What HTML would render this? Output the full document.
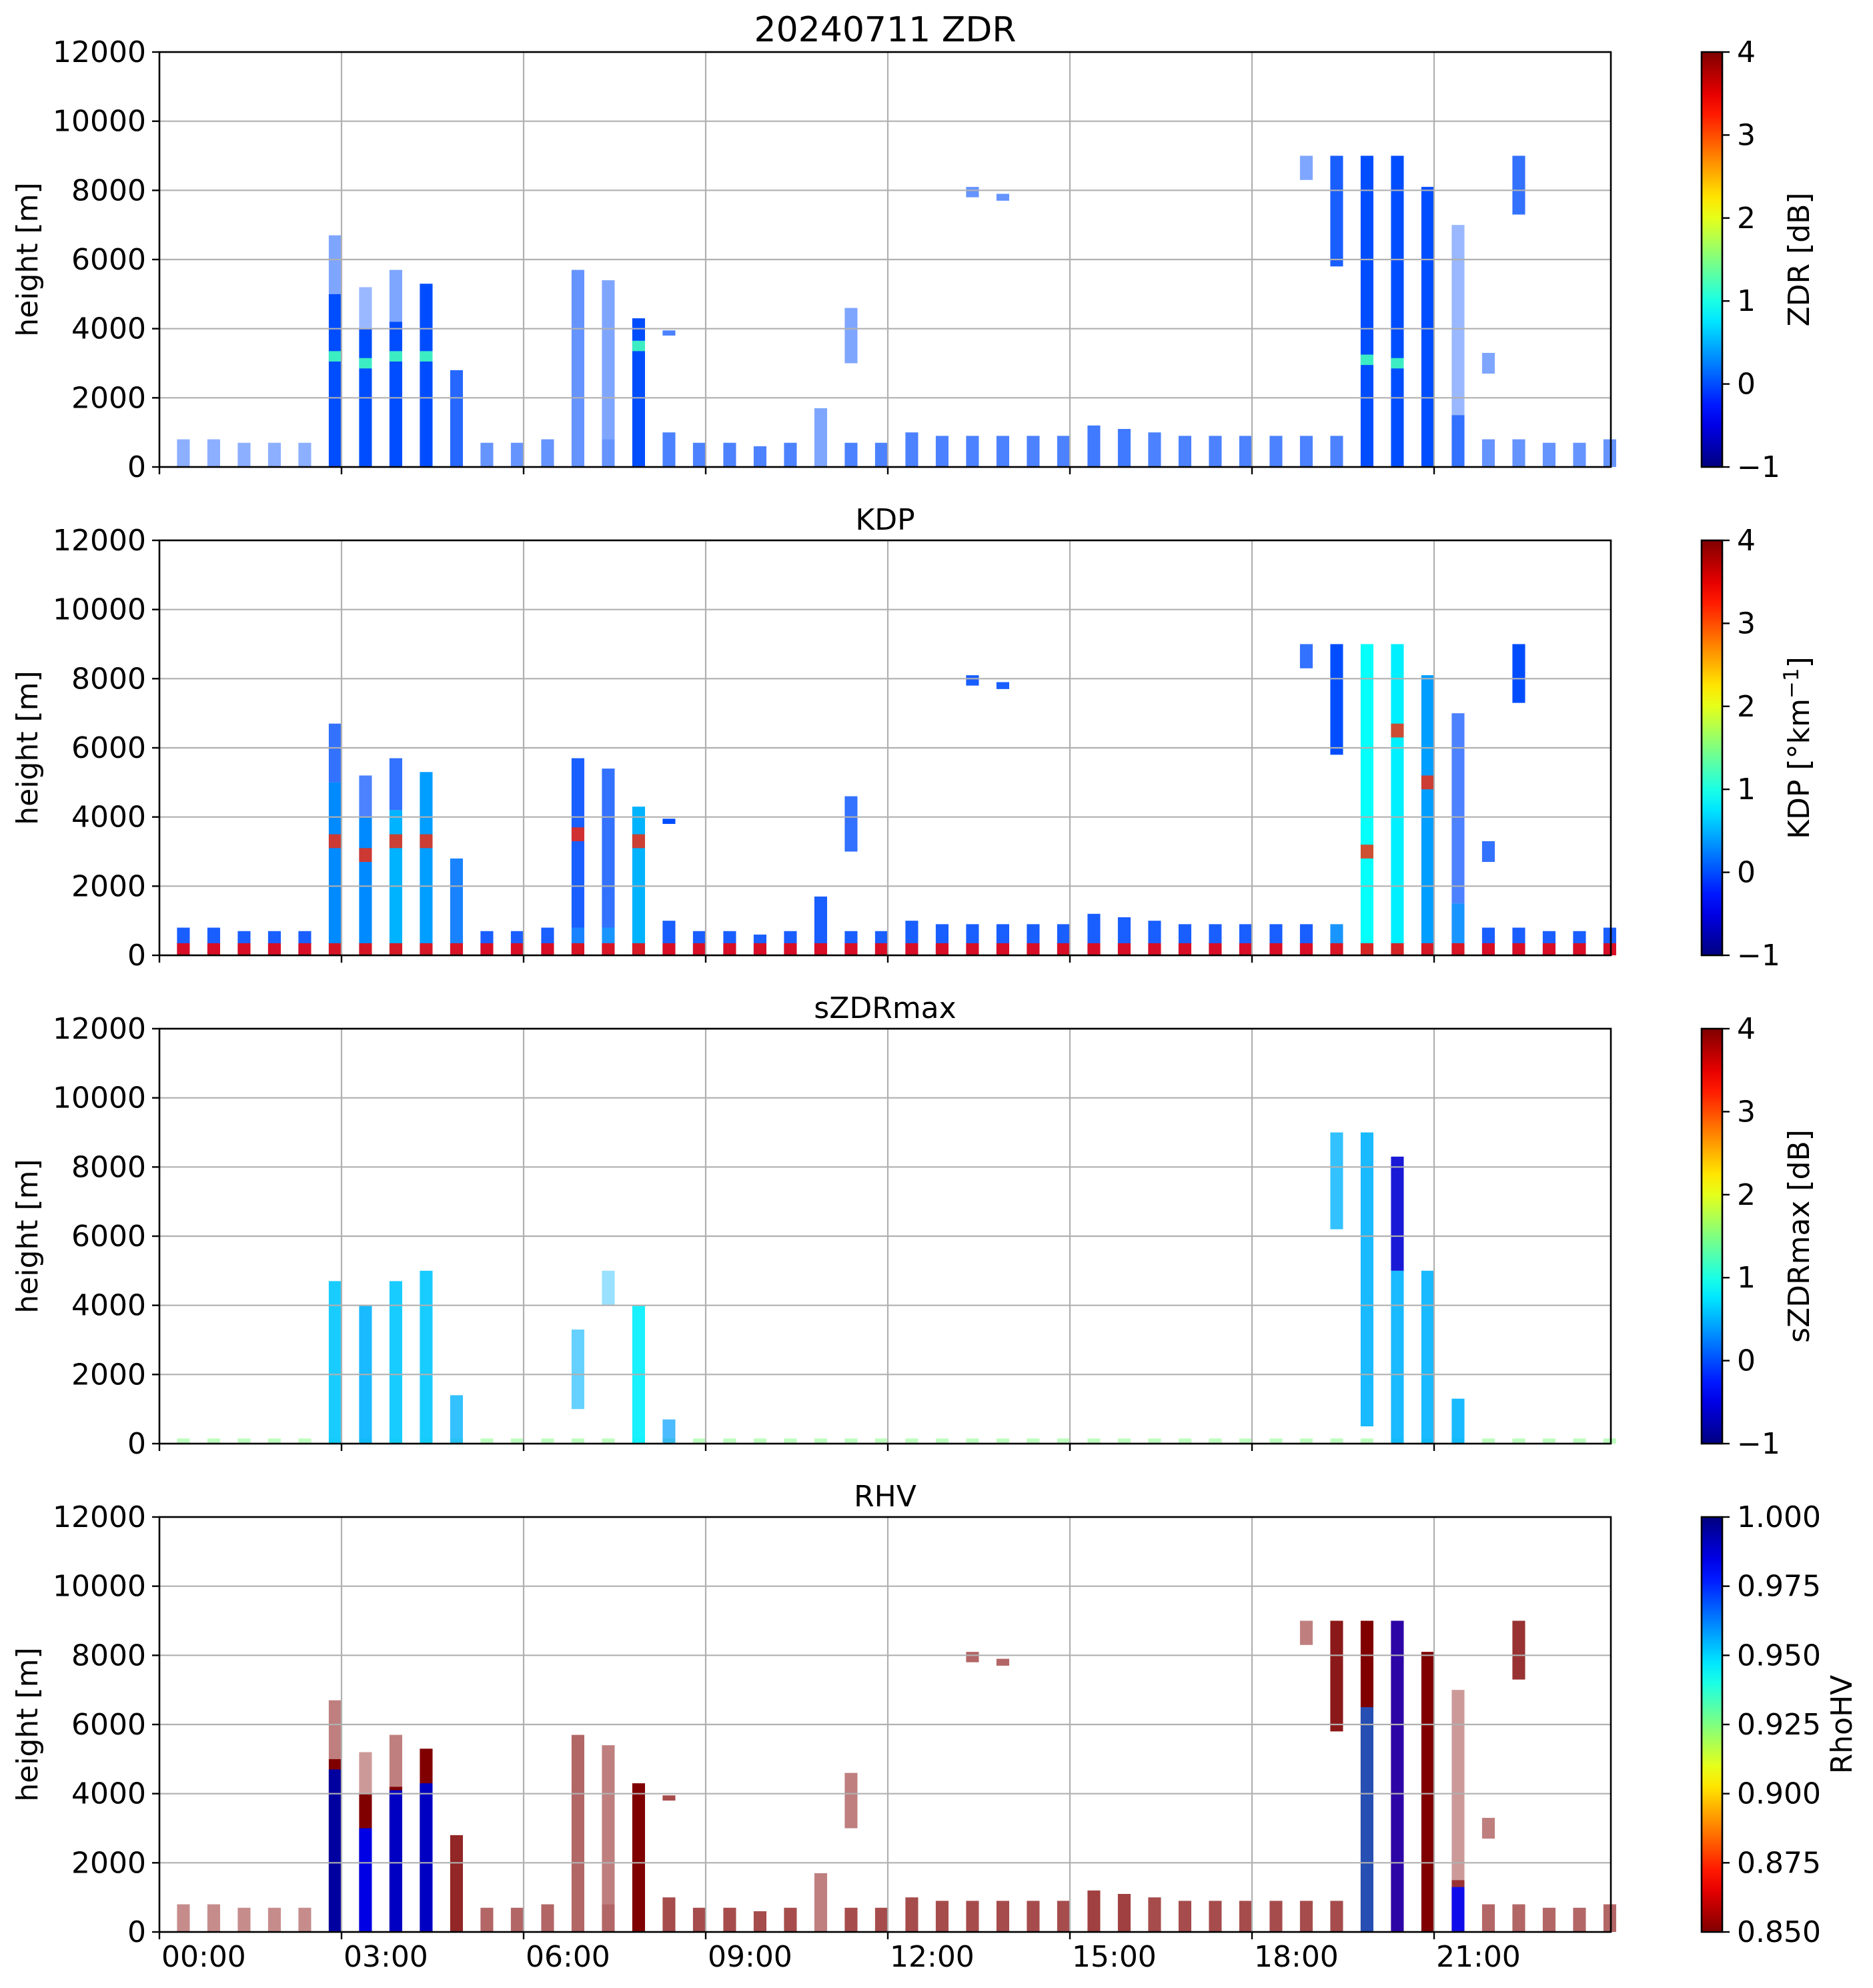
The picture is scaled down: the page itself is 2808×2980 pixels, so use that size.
<!DOCTYPE html>
<html><head><meta charset="utf-8"><style>
html,body{margin:0;padding:0;background:#fff;}
svg{display:block;font-family:"DejaVu Sans","Liberation Sans",sans-serif;}
</style></head><body>
<svg id="fig" width="2808" height="2980" viewBox="0 0 2808 2980" xmlns="http://www.w3.org/2000/svg"></svg>
<script>
// ---- data ----
const scanStart = [0.29,0.79,1.29,1.79,2.29,2.79,3.29,3.79,4.29,4.79,5.29,5.79,6.29,6.79,7.29,7.79,8.29,8.79,9.29,9.79,10.29,10.79,11.29,11.79,12.29,12.79,13.29,13.79,14.29,14.79,15.29,15.79,16.29,16.79,17.29,17.79,18.29,18.79,19.29,19.79,20.29,20.79,21.29,21.79,22.29,22.79,23.29,23.79];
const scanDur = 0.21;
const heightTicks = [0,2000,4000,6000,8000,10000,12000];
const timeTicks = [0,3,6,9,12,15,18,21];
const timeLabels = ["00:00","03:00","06:00","09:00","12:00","15:00","18:00","21:00"];
const colTops = [800,800,700,700,700,5000,4000,4200,5300,2800,700,700,800,800,800,4300,1000,700,700,600,700,1700,700,700,1000,900,900,900,900,900,1200,1100,1000,900,900,900,900,900,900,9000,9000,8100,1500,800,800,700,700,800];
const colDens = [0.45,0.45,0.45,0.45,0.45,1,1,1,1,0.85,0.6,0.6,0.6,0.6,0.6,1,0.7,0.7,0.7,0.7,0.7,0.5,0.7,0.7,0.7,0.7,0.7,0.7,0.7,0.7,0.75,0.75,0.7,0.7,0.7,0.7,0.7,0.7,0.7,1,1,1,0.8,0.6,0.6,0.6,0.6,0.6];
// extra segments (scan index, bottom m, top m, density)
const extK   = [5,6,7,13,14,16,22,26,27,37,38,42,43,44];
const extBot = [5000,4000,4200,800,800,3800,3000,7800,7700,8300,5800,1500,2700,7300];
const extTop = [6700,5200,5700,5700,5400,3950,4600,8100,7900,9000,9000,7000,3300,9000];
const extDen = [0.5,0.4,0.5,0.6,0.5,0.7,0.5,0.6,0.6,0.5,0.9,0.4,0.5,0.8];
// ZDR values
const zdrBase = 0.0;
const zdrBandK = [5,6,7,8,15,39,40];
const zdrBandH = [3200,3000,3200,3200,3500,3100,3000];
// KDP values
const kdpColVal = [0,0,0,0,0,0.3,0.3,0.5,0.4,0.2,0,0,0,0.2,0.3,0.5,0,0,0,0,0,0,0,0,0,0,0,0,0,0,0,0,0,0,0,0,0,0,0.3,0.9,0.8,0.4,0.3,0,0,0,0,0];
const kdpLowTop = 350;
const kdpLowVal = 3.4;
const kdpBandK = [5,6,7,8,13,15,39,40,41];
const kdpBandH = [3300,2900,3300,3300,3500,3300,3000,6500,5000];
// sZDRmax
const szK   = [5,6,7,8,9,13,14,15,16,38,39,40,40,41,42];
const szBot = [0,0,0,0,0,1000,4000,0,0,6200,500,0,5000,0,0];
const szTop = [4700,4000,4700,5000,1400,3300,5000,4000,700,9000,9000,5000,8300,5000,1300];
const szVal = [0.6,0.5,0.6,0.6,0.5,0.5,0.5,0.8,0.4,0.5,0.5,0.5,-0.6,0.5,0.5];
const szDen = [0.9,0.9,0.9,0.9,0.8,0.6,0.4,0.9,0.7,0.8,0.9,0.9,0.9,0.9,0.9];
const szLowTop = 150;
// RHV
const rhvBase = 0.85;
const rhvCoreK   = [5,6,7,8,39,40,42];
const rhvCoreTop = [4700,3000,4100,4300,6500,9000,1300];
const rhvCoreVal = [0.995,0.985,0.99,0.99,0.965,0.98,0.98];
const rhvCoreDen = [1,1,1,1,0.7,0.65,0.9];

// ---- layout ----
const NS="http://www.w3.org/2000/svg";
const svg=document.getElementById('fig');
const AX_L=239, AX_R=2415, PH=622;
const tops=[78,810,1542,2274];
const CB_L=2551, CB_W=31;
function xs(h){return AX_L+(h/24)*(2184);}
function ys(top,m){return top+PH-(m/12000)*PH;}
function el(tag,attrs,parent){const e=document.createElementNS(NS,tag);for(const k in attrs)e.setAttribute(k,attrs[k]);(parent||svg).appendChild(e);return e;}
function cl(v){return Math.max(0,Math.min(1,v));}
function jet(x){const r=cl(Math.min(4*x-1.5,-4*x+4.5)),g=cl(Math.min(4*x-0.5,-4*x+3.5)),b=cl(Math.min(4*x+0.5,-4*x+2.5));return `rgb(${Math.round(r*255)},${Math.round(g*255)},${Math.round(b*255)})`;}
const cmA=v=>jet((v+1)/5);
const cmR=v=>jet(1-(v-0.85)/0.15);

function rect(g,k,bot,top,col,den,ptop,name){
  const x0=xs(scanStart[k]),x1=xs(scanStart[k]+scanDur);
  const r=el('rect',{x:x0,y:ys(ptop,top),width:x1-x0,height:ys(ptop,bot)-ys(ptop,top),fill:col,'fill-opacity':den},g);
  
  
}

function panel(i,title,cbLabel,cbTicks,cbTickLabels,cmap,lo,hi,labelX,drawData){
  const ptop=tops[i];
  const g=el('g',{});
  
  
  const dg=el('g',{},g);
  
  
  drawData(dg,ptop);
  heightTicks.forEach(t=>{const y=ys(ptop,t);el('line',{x1:AX_L,x2:AX_R,y1:y,y2:y,stroke:'#b0b0b0','stroke-width':2.2},g);});
  timeTicks.forEach(t=>{if(t===0)return;const x=xs(t);el('line',{x1:x,x2:x,y1:ptop,y2:ptop+PH,stroke:'#b0b0b0','stroke-width':2.2},g);});
  const fr=el('rect',{x:AX_L,y:ptop,width:AX_R-AX_L,height:PH,fill:'none',stroke:'#000','stroke-width':2.6},g);
  
  heightTicks.forEach(t=>{const y=ys(ptop,t);el('line',{x1:AX_L-11,x2:AX_L,y1:y,y2:y,stroke:'#000','stroke-width':2.4},g);
    const tx=el('text',{x:AX_L-20,y:y+15,'font-size':44,'text-anchor':'end',fill:'#000'},g);tx.textContent=t;
    });
  timeTicks.forEach((t,j)=>{const x=xs(t);el('line',{x1:x,x2:x,y1:ptop+PH,y2:ptop+PH+11,stroke:'#000','stroke-width':2.4},g);
    if(i===3){const tx=el('text',{x:x+3,y:ptop+PH+52,'font-size':44,'text-anchor':'start',fill:'#000'},g);tx.textContent=timeLabels[j];
      }});
  const yl=el('text',{x:0,y:0,'font-size':44,'text-anchor':'middle',transform:`translate(56,${ptop+PH/2}) rotate(-90)`},g);
  yl.textContent='height [m]';
  const tt=el('text',{x:(AX_L+AX_R)/2,y:ptop-16,'font-size':i===0?52:44,'text-anchor':'middle'},g);
  tt.textContent=title;
  const gid='grad'+i;const lg=el('linearGradient',{id:gid,x1:0,y1:1,x2:0,y2:0},g);
  for(let s=0;s<=20;s++){const v=lo+(hi-lo)*s/20;el('stop',{offset:s/20,'stop-color':cmap(v)},lg);}
  const cb=el('rect',{x:CB_L,y:ptop,width:CB_W,height:PH,fill:`url(#${gid})`,stroke:'#000','stroke-width':2.6},g);
  
  cbTicks.forEach((v,j)=>{const y=ptop+PH-(v-lo)/(hi-lo)*PH;el('line',{x1:CB_L+CB_W,x2:CB_L+CB_W+11,y1:y,y2:y,stroke:'#000','stroke-width':2.4},g);
    const tx=el('text',{x:CB_L+CB_W+22,y:y+15,'font-size':44,fill:'#000'},g);tx.textContent=cbTickLabels[j];
    });
  const cl_=el('text',{x:0,y:0,'font-size':44,'text-anchor':'middle',transform:`translate(${labelX},${ptop+PH/2}) rotate(-90)`},g);
  cl_.innerHTML=cbLabel;
}
const tA=[-1,0,1,2,3,4], tAL=['\u22121','0','1','2','3','4'];
panel(0,'20240711 ZDR','ZDR [dB]',tA,tAL,cmA,-1,4,2712,(g,p)=>{
  colTops.forEach((t,k)=>rect(g,k,0,t,cmA(zdrBase),colDens[k],p,'zdr-column'));
  extK.forEach((k,j)=>rect(g,k,extBot[j],extTop[j],cmA(zdrBase),extDen[j],p,'zdr-segment'));
  zdrBandK.forEach((k,j)=>rect(g,k,zdrBandH[j]-150,zdrBandH[j]+150,cmA(1.2),0.9,p,'zdr-bright-band'));
});
panel(1,'KDP','KDP [°km<tspan dy="-16" font-size="31">−1</tspan><tspan dy="16">]</tspan>',tA,tAL,cmA,-1,4,2712,(g,p)=>{
  colTops.forEach((t,k)=>rect(g,k,0,t,cmA(kdpColVal[k]),Math.max(0.9,colDens[k]),p,'kdp-column'));
  extK.forEach((k,j)=>rect(g,k,extBot[j],extTop[j],cmA(0),Math.min(1,extDen[j]+0.3),p,'kdp-segment'));
  colTops.forEach((t,k)=>rect(g,k,0,kdpLowTop,cmA(kdpLowVal),0.85,p,'kdp-low-band'));
  kdpBandK.forEach((k,j)=>rect(g,k,kdpBandH[j]-200,kdpBandH[j]+200,cmA(3.2),0.8,p,'kdp-band'));
});
panel(2,'sZDRmax','sZDRmax [dB]',tA,tAL,cmA,-1,4,2712,(g,p)=>{
  colTops.forEach((t,k)=>rect(g,k,0,szLowTop,cmA(1.5),0.5,p,'szdr-low'));
  szK.forEach((k,j)=>rect(g,k,szBot[j],szTop[j],cmA(szVal[j]),szDen[j],p,'szdr-column'));
});
panel(3,'RHV','RhoHV',[0.85,0.875,0.9,0.925,0.95,0.975,1.0],['0.850','0.875','0.900','0.925','0.950','0.975','1.000'],cmR,0.85,1.0,2776,(g,p)=>{
  colTops.forEach((t,k)=>rect(g,k,0,t,cmR(rhvBase),colDens[k],p,'rhv-column'));
  extK.forEach((k,j)=>rect(g,k,extBot[j],extTop[j],cmR(rhvBase),extDen[j],p,'rhv-segment'));
  rhvCoreK.forEach((k,j)=>rect(g,k,0,rhvCoreTop[j],cmR(rhvCoreVal[j]),rhvCoreDen[j],p,'rhv-core'));
});
</script>
</body></html>
